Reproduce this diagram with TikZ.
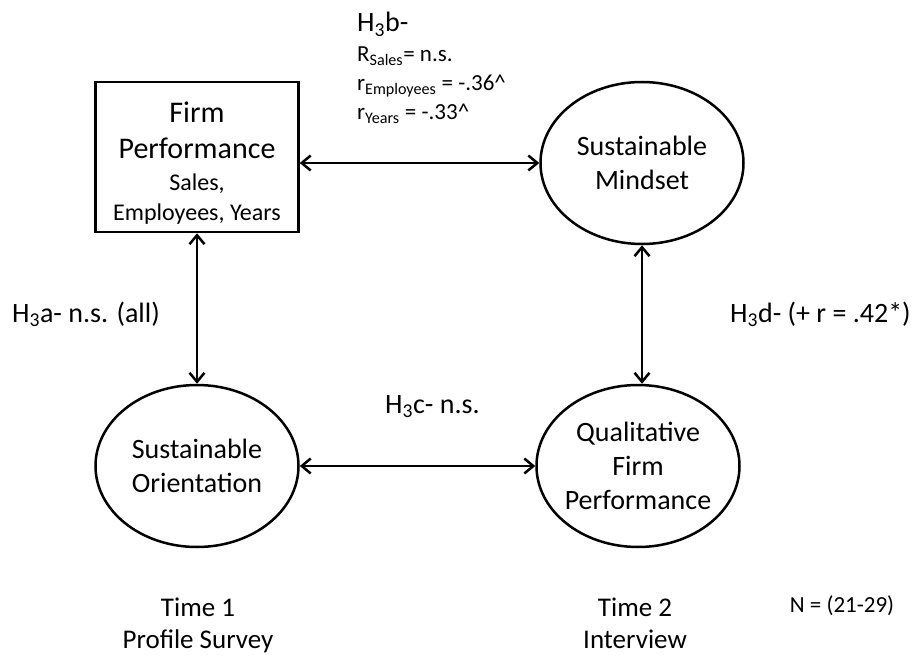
\documentclass[tikz,border=0pt]{standalone}
\usepackage{fontspec}
\setmainfont{Carlito}
\usetikzlibrary{arrows.meta,shapes.geometric}
\tikzset{
  >={Straight Barb[length=9pt,width=15pt]},
  link/.style={<->,line width=2.5pt},
  latent/.style={draw,ellipse,line width=2.5pt,inner sep=-6pt,minimum width=203pt,
    minimum height=162pt,align=center,font=\fontsize{28}{34}\selectfont},
  hyp/.style={anchor=base west,inner sep=0pt,font=\fontsize{28}{34}\selectfont},
  timing/.style={anchor=north,inner sep=0pt,align=center,font=\fontsize{27}{32}\selectfont},
}
\newcommand{\measfont}{\fontsize{24}{29}\selectfont}
\begin{document}
\begin{tikzpicture}[x=1pt,y=-1pt]
  \useasboundingbox (0,0) rectangle (922,658);
  \node[draw,line width=2.5pt,minimum width=203pt,minimum height=150pt,align=center,
    font=\fontsize{30}{36}\selectfont] (perf) at (197,157)
   {\rule{0pt}{33pt}Firm\\Performance\\[-4pt]{\measfont Sales,}\\[-6pt]{\measfont Employees, Years}};
  \node[latent] (mind) at (642,163) {Sustainable\\Mindset};
  \node[latent] (orient) at (197,466) {Sustainable\\Orientation};
  \node[latent] (qual) at (638,466) {Qualitative\\Firm\\Performance};
  \draw[link] (perf.east |- mind.west) -- (mind.west);
  \draw[link] (perf.south) -- (orient.north);
  \draw[link] (mind.south) -- (mind.south |- qual.north);
  \draw[link] (orient.east) -- (qual.west);
  \node[hyp] (hb) at (357,32) {H\textsubscript{3}b-};
  \node[anchor=north west,inner sep=0pt,align=left,font=\fontsize{23}{29}\selectfont] (hbr) at (357,47)
   {R\textsubscript{Sales}= n.s.\\r\textsubscript{Employees} = -.36\textasciicircum\\r\textsubscript{Years} = -.33\textasciicircum};
  \node[hyp] (ha) at (12,322) {H\textsubscript{3}a- n.s. (all)};
  \node[hyp] (hd) at (730,322) {H\textsubscript{3}d- (+ r = .42*)};
  \node[hyp] (hc) at (385,413) {H\textsubscript{3}c- n.s.};
  \node[timing] (t1) at (198,598) {Time 1\\Profile Survey};
  \node[timing] (t2) at (635,598) {Time 2\\Interview};
  \node[anchor=base,inner sep=0pt,font=\fontsize{23}{28}\selectfont] (n) at (842,612) {N = (21-29)};
\end{tikzpicture}
\end{document}
